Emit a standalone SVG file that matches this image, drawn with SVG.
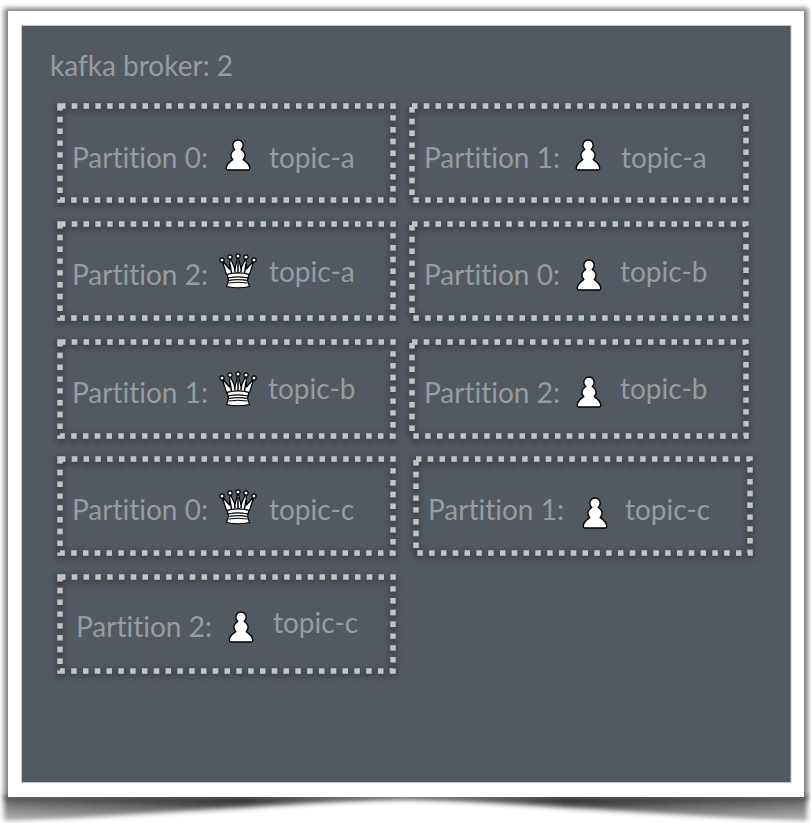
<svg xmlns="http://www.w3.org/2000/svg" width="811" height="823" viewBox="0 0 811 823">
<style>
.t{font-family:Lato,"Liberation Sans",sans-serif;font-size:28px;font-variant-ligatures:none;fill:#979c9f}
.b{fill:none;stroke:#c4c4c4;stroke-width:5.400;stroke-dasharray:5.400 6.400}
.p{fill:#fff;stroke:#000;stroke-width:1.400;stroke-linejoin:round}
</style>
<defs>
<filter id="sh" x="-5%" y="-15%" width="110%" height="130%"><feDropShadow dx="0" dy="2" stdDeviation="3.500" flood-color="#000" flood-opacity=".7"/></filter>
<filter id="bl" x="-5%" y="-50%" width="110%" height="200%"><feGaussianBlur stdDeviation="2.500"/></filter>
<filter id="bs" x="-5%" y="-5%" width="110%" height="110%"><feGaussianBlur stdDeviation="2.500"/></filter>
<linearGradient id="cs" x1="0" x2="1" y1="0" y2="0">
<stop offset="0" stop-color="#5a5a5a"/><stop offset=".3" stop-color="#1c1c1c"/><stop offset=".5" stop-color="#aaa"/><stop offset=".7" stop-color="#1c1c1c"/><stop offset="1" stop-color="#5a5a5a"/>
</linearGradient>
<linearGradient id="fade" x1="0" x2="0" y1="0" y2="1">
<stop offset="0" stop-color="#fff" stop-opacity="0"/><stop offset=".8" stop-color="#fff" stop-opacity=".5"/><stop offset="1" stop-color="#fff" stop-opacity=".85"/>
</linearGradient>
<symbol id="pawn" overflow="visible">
<path class="p" d="M-3.200 9.500C-4.800 8.300-5.200 6.800-5.200 5.200C-5.200 2.300-2.900 0 0 0C2.900 0 5.200 2.300 5.200 5.200C5.200 6.800 4.800 8.300 3.200 9.500C5.800 11.200 7.100 13.200 7.100 15.300C7.100 17.300 6.200 18.600 5.200 19.600C8.300 21.600 11.800 24.600 11.800 28.300C11.800 29.400 11.100 30 10.200 30L-10.200 30C-11.100 30-11.800 29.400-11.800 28.300C-11.800 24.600-8.300 21.600-5.200 19.600C-6.200 18.600-7.100 17.300-7.100 15.300C-7.100 13.200-5.800 11.200-3.200 9.500Z"/>
</symbol>
<symbol id="queen" overflow="visible">
<g stroke="#000" stroke-width="1.200" fill="#fff">
<path d="M-11.500 19.500L-16 5.500L-8.500 14L-8 2.500L-3 13.500L0 1.500L3 13.500L8 2.500L8.500 14L16 5.500L11.500 19.500Q0 16 -11.500 19.500Z" stroke-linejoin="round"/>
<path d="M-8 9L-6.500 18M8 9L6.500 18M0 6L0 17M-3.500 12L-3 17M3.500 12L3 17" stroke="#000" stroke-width="1.500"/>
<circle cx="-16" cy="5" r="2.100"/><circle cx="-8" cy="2" r="2.100"/><circle cx="0" cy="1" r="2.100"/><circle cx="8" cy="2" r="2.100"/><circle cx="16" cy="5" r="2.100"/>
<path d="M-11 19.500Q0 16.500 11 19.500L10 23Q0 21 -10 23Z"/>
<path d="M-10 23Q0 21 10 23L9.500 25.500Q0 24 -9.500 25.500Z"/>
<path d="M-9.500 25.500Q0 24 9.500 25.500L11.500 31.500Q0 34 -11.500 31.500Z"/>
<path d="M-9.500 28Q0 26.500 9.500 28" fill="none" stroke-width="1"/>
</g>
</symbol>
</defs>
<rect width="811" height="823" fill="#fff"/>
<g id="frame">
<path d="M4 795L807 795L807 823Q640 812 405 798Q170 812 4 823Z" fill="url(#cs)" filter="url(#bl)"/>
<rect x="0" y="797" width="811" height="26" fill="url(#fade)"/>
<rect x="4" y="8" width="804" height="792" fill="#555" filter="url(#bs)" opacity=".75"/>
<rect x="8" y="11" width="796" height="786" fill="#fff"/>
<rect x="21.500" y="25.500" width="769.500" height="757" fill="#535961" stroke="#c5ccd3" stroke-width=".8"/>
</g>
<g id="title"><text class="t" x="50" y="76">kafka broker: 2</text></g>
<g id="p0a"><rect class="b" x="60" y="106" width="333" height="94" filter="url(#sh)"/><text class="t" x="72" y="168">Partition 0:</text><use href="#pawn" x="238" y="140"/><text class="t" x="269" y="168">topic-a</text></g>
<g id="p1a"><rect class="b" x="412" y="106" width="334" height="94" filter="url(#sh)"/><text class="t" x="424" y="168">Partition 1:</text><use href="#pawn" x="588" y="140"/><text class="t" x="621" y="168">topic-a</text></g>
<g id="p2a"><rect class="b" x="60" y="224" width="333" height="94" filter="url(#sh)"/><text class="t" x="72" y="285">Partition 2:</text><use href="#queen" x="238" y="255"/><text class="t" x="269" y="282">topic-a</text></g>
<g id="p0b"><rect class="b" x="412" y="224" width="334" height="94" filter="url(#sh)"/><text class="t" x="424" y="285">Partition 0:</text><use href="#pawn" x="589" y="260"/><text class="t" x="620" y="282">topic-b</text></g>
<g id="p1b"><rect class="b" x="60" y="342" width="333" height="94" filter="url(#sh)"/><text class="t" x="72" y="403">Partition 1:</text><use href="#queen" x="238" y="373"/><text class="t" x="268" y="399">topic-b</text></g>
<g id="p2b"><rect class="b" x="412" y="342" width="334" height="94" filter="url(#sh)"/><text class="t" x="424" y="403">Partition 2:</text><use href="#pawn" x="589" y="377"/><text class="t" x="620" y="399">topic-b</text></g>
<g id="p0c"><rect class="b" x="60" y="459" width="333" height="94" filter="url(#sh)"/><text class="t" x="72" y="520">Partition 0:</text><use href="#queen" x="238" y="491"/><text class="t" x="269" y="520">topic-c</text></g>
<g id="p1c"><rect class="b" x="416" y="459" width="334" height="94" filter="url(#sh)"/><text class="t" x="428" y="520">Partition 1:</text><use href="#pawn" x="595" y="498"/><text class="t" x="625" y="520">topic-c</text></g>
<g id="p2c"><rect class="b" x="60" y="577" width="333" height="94" filter="url(#sh)"/><text class="t" x="76" y="637">Partition 2:</text><use href="#pawn" x="241" y="612"/><text class="t" x="273" y="633">topic-c</text></g>
<g id="connectors"/>
</svg>
